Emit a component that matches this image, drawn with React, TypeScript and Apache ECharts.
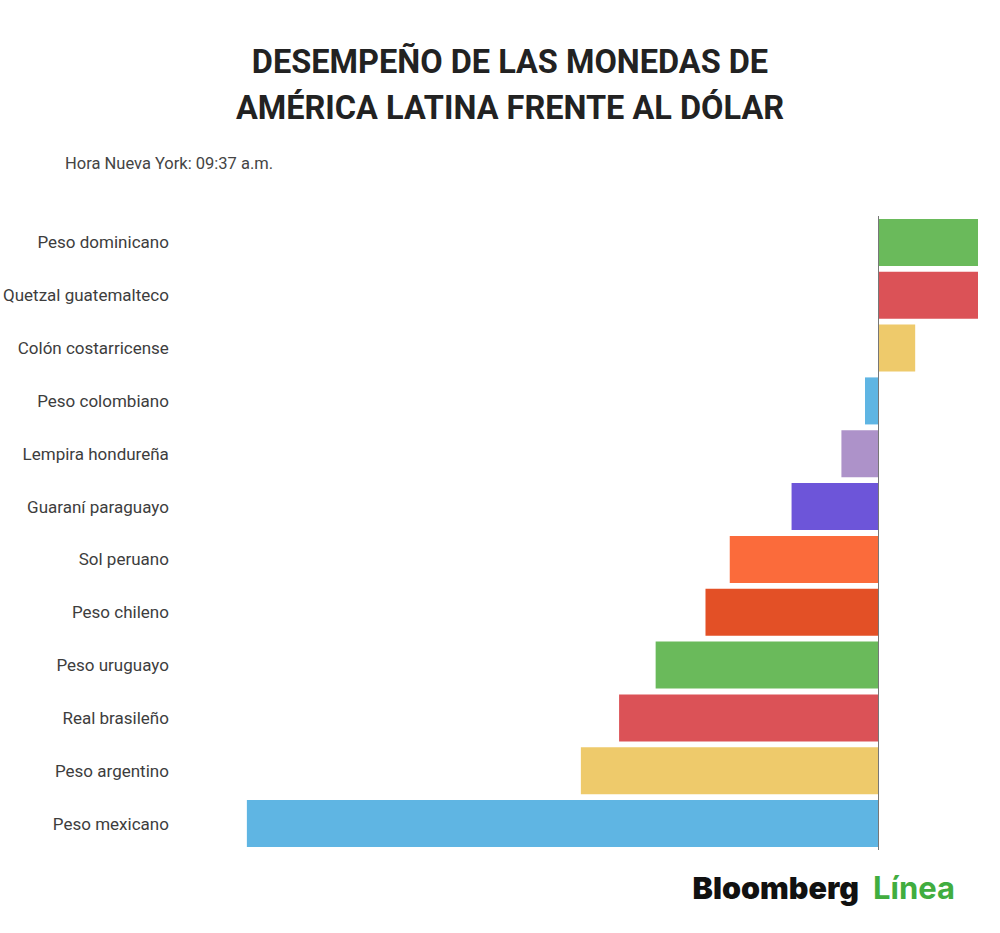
import { useEffect, useRef } from 'react';
import * as echarts from 'echarts';

// categories listed bottom to top (ECharts category y axis starts at the bottom)
const currencies = [
  'Peso mexicano',
  'Peso argentino',
  'Real brasileño',
  'Peso uruguayo',
  'Peso chileno',
  'Sol peruano',
  'Guaraní paraguayo',
  'Lempira hondureña',
  'Peso colombiano',
  'Colón costarricense',
  'Quetzal guatemalteco',
  'Peso dominicano',
];

// variación estimada (%) frente al dólar
const changes = [-1.9, -0.895, -0.78, -0.67, -0.52, -0.447, -0.261, -0.111, -0.04, 0.111, 0.3, 0.3];

const barColors = [
  '#5fb5e3',
  '#eeca6b',
  '#db5257',
  '#6aba5b',
  '#e35026',
  '#fb6b3b',
  '#6d55d9',
  '#ad92c9',
  '#5fb5e3',
  '#eeca6b',
  '#db5257',
  '#6aba5b',
];

const titleText = 'DESEMPEÑO DE LAS MONEDAS DE\nAMÉRICA LATINA FRENTE AL DÓLAR';
const subtitleText = 'Hora Nueva York: 09:37 a.m.';

export default function App() {
  const chartRef = useRef<HTMLDivElement>(null);

  useEffect(() => {
    document.body.style.margin = '0';
    if (!chartRef.current) return;
    const chart = echarts.init(chartRef.current, undefined, { renderer: 'svg' });

    chart.setOption({
      animation: false,
      textStyle: { fontFamily: 'Roboto' },
      title: [
        {
          text: titleText,
          left: 505,
          top: 34,
          textAlign: 'center',
          textStyle: { fontSize: 32.5, fontWeight: 'bold', color: '#222', lineHeight: 46, fontFamily: 'Roboto' },
        },
        {
          text: subtitleText,
          left: 60,
          top: 150,
          textStyle: { fontSize: 16.5, fontWeight: 'normal', color: '#444', fontFamily: 'Roboto' },
        },
      ],
      grid: { left: 246, right: 22, top: 216, height: 634, containLabel: false },
      xAxis: {
        type: 'value',
        min: 'dataMin',
        max: 'dataMax',
        show: false,
      },
      yAxis: {
        type: 'category',
        data: currencies,
        axisLine: { show: false },
        axisTick: { show: false },
        splitLine: { show: false },
        axisLabel: { margin: 78, fontSize: 17, color: '#3d3d3d', fontFamily: 'Roboto' },
      },
      series: [
        {
          type: 'bar',
          data: changes.map((v, i) => ({ value: v, itemStyle: { color: barColors[i] } })),
          barCategoryGap: '11%',
          markLine: {
            silent: true,
            symbol: 'none',
            label: { show: false },
            lineStyle: { color: '#777', width: 1, type: 'solid' },
            data: [{ xAxis: 0 }],
          },
        },
      ],
      graphic: [
        {
          type: 'text',
          right: 45,
          top: 872,
          style: {
            text: '{a|Bloomberg}{s| }{b|Línea}',
            rich: {
              a: { fontSize: 30.5, fontWeight: 900, fill: '#111', fontFamily: 'Inter' },
              s: { fontSize: 31, width: 14 },
              b: { fontSize: 31, fontWeight: 'bold', fill: '#41ad3f', fontFamily: 'Inter' },
            },
          },
        },
      ],
    });

    return () => chart.dispose();
  }, []);

  return <div ref={chartRef} style={{ width: 1000, height: 933 }} />;
}
